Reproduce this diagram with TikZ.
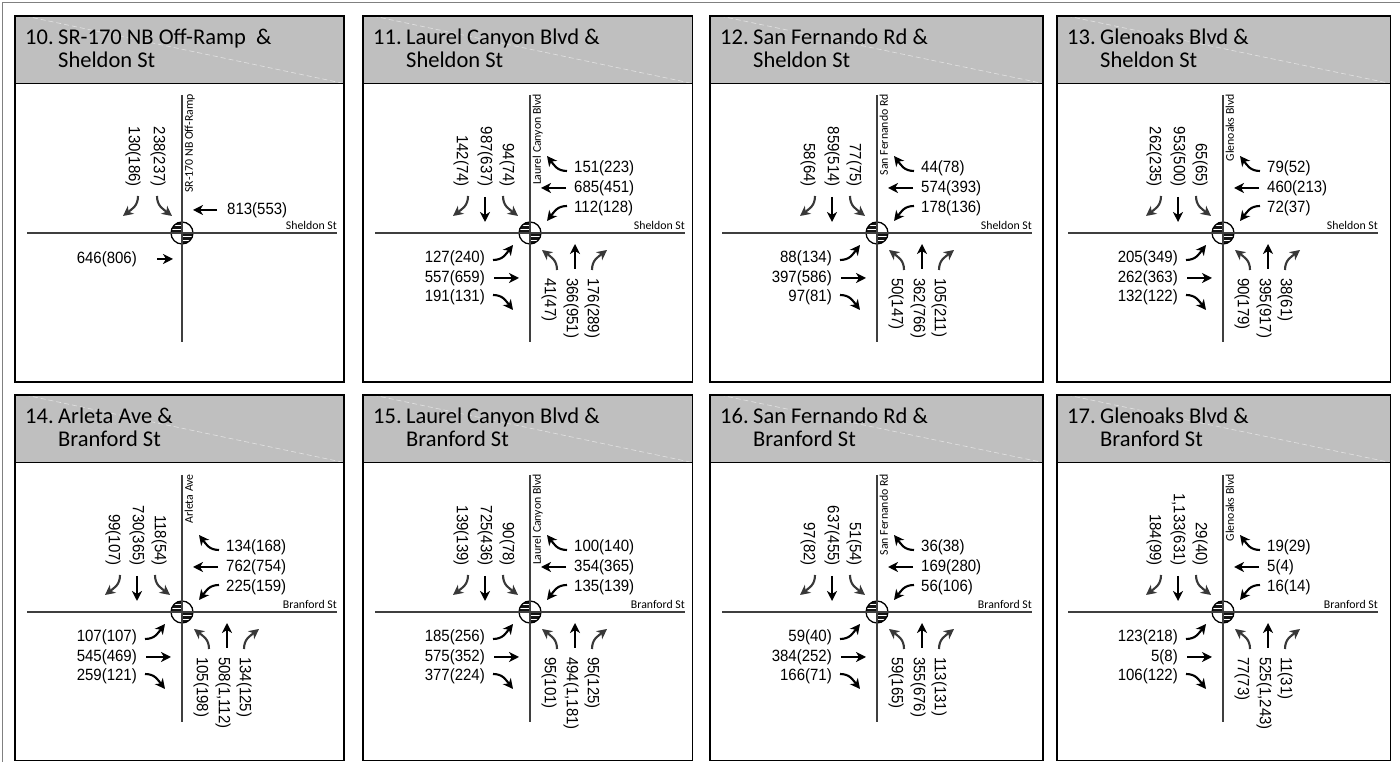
\documentclass[tikz,border=0pt]{standalone}
\usepackage{fontspec}
\newfontfamily\titlefont{Carlito}
\newfontfamily\volfont[FakeStretch=0.92]{Liberation Sans}
\usetikzlibrary{arrows.meta}

\definecolor{hdr}{HTML}{BFBFBF}
\definecolor{roadc}{HTML}{3F3F3F}
\definecolor{turnc}{HTML}{383838}
\definecolor{framec}{HTML}{808080}

% keep the two title lines at a fixed 23pt pitch
\newcommand\tightlines{\lineskiplimit=-50pt\relax}

\tikzset{
  arr/.style={line width=2.1pt, -{Stealth[length=10pt,width=10pt,inset=3pt]}},
  vol/.style={font=\volfont\fontsize{16.3}{19}\selectfont, inner sep=0pt},
  ttl/.style={font=\titlefont\fontsize{22.5}{23}\selectfont\tightlines, inner sep=0pt, align=left},
  stname/.style={font=\titlefont\fontsize{11.8}{14}\selectfont, inner sep=0pt},
  roadline/.style={draw=roadc, line width=1.4pt},
  % movement arrows, drawn for a southbound approach and rotated for the others
  pics/rturn/.style={code={\draw[arr] (#1,37) .. controls (#1,27) and (#1-6,24) .. (#1-15,17);}},
  pics/lturn/.style={code={\draw[arr] (#1,37) .. controls (#1,27) and (#1+6,24) .. (#1+15,17);}},
  pics/thru/.style n args={3}{code={\draw[arr] (#1,#2) -- (#1,#3);}},
  % signal symbol with two hatched quadrants
  pics/signal/.style={code={
    \fill[white] (0,0) circle (11pt);
    \begin{scope}
      \clip (0,0) -- (-11,0) arc[start angle=180,end angle=90,radius=11pt] -- cycle
            (0,0) -- (11,0) arc[start angle=0,end angle=-90,radius=11pt] -- cycle;
      \fill[black!92] (-11,-11) rectangle (11,11);
      \foreach \k in {-7.5,-3.5,3.5,7.5}
        \draw[white,line width=0.45pt] (-11,\k) -- (11,\k);
    \end{scope}
    \draw[line width=1.3pt] (0,0) circle (11pt);
  }},
}

% panel frame with grey heading: name, left, right, top, bottom, number, two-line title
\newcommand\panelbox[7]{%
  \fill[hdr] (#2,#4) rectangle (#3,#4-67.5);
  \draw[white, opacity=.55, dash pattern=on 5pt off 3pt, line width=.6pt] (#2+10,#4) -- (#3,#4-67.5);
  \draw[line width=1.2pt] (#2,#4-67.5) -- (#3,#4-67.5);
  \draw[line width=1.2pt] (#2,#5) rectangle (#3,#4);
  \node[ttl, anchor=base west] (#1-num) at (#2+10,#4-28.5) {#6};
  % the base anchor of a two-line node sits on its last line
  \node[ttl, anchor=base west] (#1-name) at (#2+43,#4-51.5) {#7};
}

% crossing: name, x, y, road top, road bottom, N-S street, E-W street
\newcommand\crossing[7]{%
  \coordinate (#1) at (#2,#3);
  \pic (#1-sig) at (#1) {signal};
  \draw[roadline] (#2,#4) -- (#2,#5);
  \draw[roadline] (#2-155,#3) -- (#2+155,#3);
  \node[stname, rotate=90, anchor=north east] (#1-vn) at (#2+2.5,#4+1) {#6};
  \node[stname, anchor=base east] (#1-hn) at (#2+155,#3+3.5) {#7};
}

% approaches: crossing, right turn, through, left turn
\newcommand\SBapp[4]{%
  \pic[color=turnc] at (#1) {rturn=-62};
  \pic at (#1) {thru={-45}{36}{11}};
  \pic[color=turnc] at (#1) {lturn=-27};
  \node[vol,rotate=-90,anchor=east] (#1-sbr) at ([shift={(-69,46)}]#1) {#2};
  \node[vol,rotate=-90,anchor=east] (#1-sbt) at ([shift={(-45,46)}]#1) {#3};
  \node[vol,rotate=-90,anchor=east] (#1-sbl) at ([shift={(-23,46)}]#1) {#4};
}
\newcommand\WBapp[4]{%
  \pic[rotate=-90] at (#1) {rturn=-62};
  \pic[rotate=-90] at (#1) {thru={-45}{36}{11}};
  \pic[rotate=-90] at (#1) {lturn=-27};
  \node[vol,anchor=west] (#1-wbr) at ([shift={(44,65)}]#1) {#2};
  \node[vol,anchor=west] (#1-wbt) at ([shift={(44,45)}]#1) {#3};
  \node[vol,anchor=west] (#1-wbl) at ([shift={(44,25)}]#1) {#4};
}
\newcommand\NBapp[4]{%
  \pic[rotate=180,color=turnc] at (#1) {rturn=-62};
  \pic[rotate=180] at (#1) {thru={-45}{36}{11}};
  \pic[rotate=180,color=turnc] at (#1) {lturn=-27};
  \node[vol,rotate=-90,anchor=west] (#1-nbr) at ([shift={(62,-45)}]#1) {#2};
  \node[vol,rotate=-90,anchor=west] (#1-nbt) at ([shift={(41,-45)}]#1) {#3};
  \node[vol,rotate=-90,anchor=west] (#1-nbl) at ([shift={(19,-45)}]#1) {#4};
}
\newcommand\EBapp[4]{%
  \pic[rotate=90] at (#1) {rturn=-62};
  \pic[rotate=90] at (#1) {thru={-45}{36}{11}};
  \pic[rotate=90] at (#1) {lturn=-27};
  \node[vol,anchor=east] (#1-ebr) at ([shift={(-45,-64)}]#1) {#2};
  \node[vol,anchor=east] (#1-ebt) at ([shift={(-45,-45)}]#1) {#3};
  \node[vol,anchor=east] (#1-ebl) at ([shift={(-45,-25)}]#1) {#4};
}

\begin{document}
\begin{tikzpicture}[x=1pt,y=1pt]
\useasboundingbox (0,0) rectangle (1400,762);
\fill[white] (0,0) rectangle (1400,762);
\draw[framec, line width=1.5pt] (2.5,0) -- (2.5,759.5) -- (1400,759.5);

% ---------------- upper row ----------------
\panelbox{p10}{15}{344}{746}{380}{10.}{SR-170 NB Off-Ramp\ \ \&\\Sheldon St}
\crossing{c10}{182}{529}{667}{420}{SR-170 NB Off-Ramp}{Sheldon St}
\pic[color=turnc] at (c10) {rturn=-44};
\pic[color=turnc] at (c10) {lturn=-25};
\pic[rotate=-90] at (c10) {thru={-23}{35}{11}};
\pic[rotate=90] at (c10) {thru={-26}{25}{9}};
\node[vol,rotate=-90,anchor=east] (c10-sbr) at ([shift={(-49,46)}]c10) {130(186)};
\node[vol,rotate=-90,anchor=east] (c10-sbl) at ([shift={(-24,46)}]c10) {238(237)};
\node[vol,anchor=west] (c10-wbt) at ([shift={(45,23)}]c10) {813(553)};
\node[vol,anchor=east] (c10-ebt) at ([shift={(-45,-26)}]c10) {646(806)};

\panelbox{p11}{363}{692.5}{746}{380}{11.}{Laurel Canyon Blvd \&\\Sheldon St}
\crossing{c11}{530}{529}{667}{420}{Laurel Canyon Blvd}{Sheldon St}
\SBapp{c11}{142(74)}{987(637)}{94(74)}
\WBapp{c11}{151(223)}{685(451)}{112(128)}
\NBapp{c11}{176(289)}{366(951)}{41(47)}
\EBapp{c11}{191(131)}{557(659)}{127(240)}

\panelbox{p12}{710}{1043}{746}{380}{12.}{San Fernando Rd \&\\Sheldon St}
\crossing{c12}{877}{529}{667}{420}{San Fernando Rd}{Sheldon St}
\SBapp{c12}{58(64)}{859(514)}{77(75)}
\WBapp{c12}{44(78)}{574(393)}{178(136)}
\NBapp{c12}{105(211)}{362(766)}{50(147)}
\EBapp{c12}{97(81)}{397(586)}{88(134)}

\panelbox{p13}{1057}{1390.5}{746}{380}{13.}{Glenoaks Blvd \&\\Sheldon St}
\crossing{c13}{1223}{529}{667}{420}{Glenoaks Blvd}{Sheldon St}
\SBapp{c13}{262(235)}{953(500)}{65(65)}
\WBapp{c13}{79(52)}{460(213)}{72(37)}
\NBapp{c13}{38(61)}{395(917)}{90(179)}
\EBapp{c13}{132(122)}{262(363)}{205(349)}

% ---------------- lower row ----------------
\panelbox{p14}{15}{344}{367}{1.5}{14.}{Arleta Ave \&\\Branford St}
\crossing{c14}{182}{150}{287}{40}{Arleta Ave}{Branford St}
\SBapp{c14}{99(107)}{730(365)}{118(54)}
\WBapp{c14}{134(168)}{762(754)}{225(159)}
\NBapp{c14}{134(125)}{508(1,112)}{105(198)}
\EBapp{c14}{259(121)}{545(469)}{107(107)}

\panelbox{p15}{363}{692.5}{367}{1.5}{15.}{Laurel Canyon Blvd \&\\Branford St}
\crossing{c15}{530}{150}{287}{40}{Laurel Canyon Blvd}{Branford St}
\SBapp{c15}{139(139)}{725(436)}{90(78)}
\WBapp{c15}{100(140)}{354(365)}{135(139)}
\NBapp{c15}{95(125)}{494(1,181)}{95(101)}
\EBapp{c15}{377(224)}{575(352)}{185(256)}

\panelbox{p16}{710}{1043}{367}{1.5}{16.}{San Fernando Rd \&\\Branford St}
\crossing{c16}{877}{150}{287}{40}{San Fernando Rd}{Branford St}
\SBapp{c16}{97(82)}{637(455)}{51(54)}
\WBapp{c16}{36(38)}{169(280)}{56(106)}
\NBapp{c16}{113(131)}{355(676)}{59(165)}
\EBapp{c16}{166(71)}{384(252)}{59(40)}

\panelbox{p17}{1057}{1390.5}{367}{1.5}{17.}{Glenoaks Blvd \&\\Branford St}
\crossing{c17}{1223}{150}{287}{40}{Glenoaks Blvd}{Branford St}
\SBapp{c17}{184(99)}{1,133(631)}{29(40)}
\WBapp{c17}{19(29)}{5(4)}{16(14)}
\NBapp{c17}{11(31)}{525(1,243)}{77(73)}
\EBapp{c17}{106(122)}{5(8)}{123(218)}
\end{tikzpicture}
\end{document}
